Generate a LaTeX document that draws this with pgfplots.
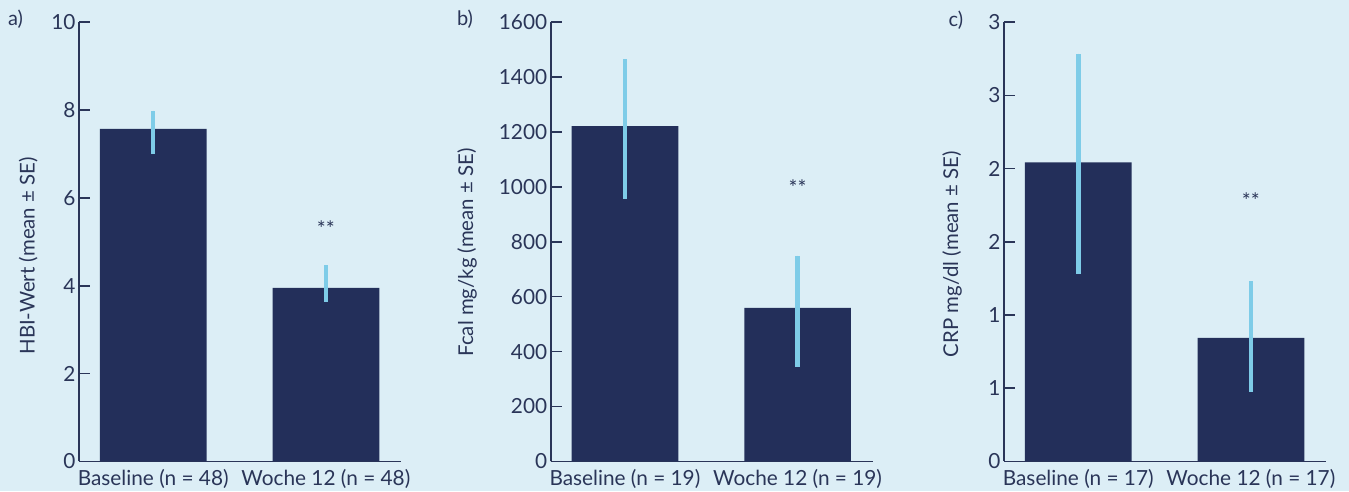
\documentclass[border=0pt]{standalone}
\usepackage{pgfplots}
\pgfplotsset{compat=1.18}
\usepackage{fontspec}
\setmainfont{Lato}
\definecolor{bg}{HTML}{DCEEF6}
\definecolor{navy}{HTML}{232F5A}
\definecolor{errc}{HTML}{7ECCE8}
\definecolor{txt}{HTML}{2A3558}
\tikzset{stars/.style={anchor=base, font=\fontsize{21}{24}\selectfont, text=txt}}
\pgfplotsset{
  panel/.style={
    scale only axis, width=322pt, height=439pt,
    axis lines=left,
    axis line style={-, line width=1.6pt, draw=txt},
    xmin=-0.43, xmax=1.435, ymin=0,
    xtick={0,1},
    xtick style={draw=none},
    tick align=inside, major tick length=11pt,
    ytick style={line width=1.6pt, draw=txt},
    extra x ticks={1.435}, extra x tick labels={},
    extra x tick style={major tick length=10pt, draw=txt, line width=1.6pt},
    tick label style={font=\fontsize{20.8}{24}\selectfont, text=txt},
    xticklabel style={yshift=6.5pt},
    label style={font=\fontsize{20.4}{24}\selectfont, text=txt},
    /pgf/number format/assume math mode=true,
    /pgf/number format/1000 sep={},
    ybar, bar width=106.7pt,
    clip=false,
  },
  errs/.style={fill=navy, draw=none,
    error bars/.cd, y dir=both, y explicit, error mark=none,
    error bar style={line width=4.5pt, draw=errc}},
}
\begin{document}
\begin{tikzpicture}
\path[use as bounding box, fill=bg] (0,0) rectangle (1349pt,491pt);
\node[font=\fontsize{20}{24}\selectfont, text=txt] at (15.5pt,472pt) {a)};
\node[font=\fontsize{20}{24}\selectfont, text=txt] at (465pt,472pt) {b)};
\node[font=\fontsize{20}{24}\selectfont, text=txt] at (956pt,471pt) {c)};

% Panel a
\begin{axis}[panel, at={(79pt,29.7pt)}, anchor=south west,
  ymax=10, ytick={0,2,4,6,8,10},
  xticklabels={Baseline (n = 48), Woche 12 (n = 48)},
  ylabel={HBI-Wert (mean ± SE)},
  ylabel style={at={(axis description cs:-0.158,0.468)}, anchor=center}]
\addplot[errs] coordinates {(0,7.57) += (0,0.41) -= (0,0.58) (1,3.95) += (0,0.52) -= (0,0.32)};
\node[stars] at (axis cs:1,5.12) {**};
\end{axis}

% Panel b
\begin{axis}[panel, at={(550.7pt,29.7pt)}, anchor=south west,
  ymax=1600, ytick={0,200,...,1600},
  xticklabels={Baseline (n = 19), Woche 12 (n = 19)},
  ylabel={Fcal mg/kg (mean ± SE)},
  ylabel style={at={(axis description cs:-0.26,0.476)}, anchor=center}]
\addplot[errs] coordinates {(0,1222) += (0,243) -= (0,266) (1,559) += (0,190) -= (0,216)};
\node[stars] at (axis cs:1,968) {**};
\end{axis}

% Panel c
\begin{axis}[panel, at={(1004pt,29.7pt)}, anchor=south west,
  ymax=3, ytick={0,0.5,1,1.5,2,2.5,3},
  yticklabels={0,1,1,2,2,3,3},
  xticklabels={Baseline (n = 17), Woche 12 (n = 17)},
  ylabel={CRP mg/dl (mean ± SE)},
  ylabel style={at={(axis description cs:-0.1615,0.472)}, anchor=center}]
\addplot[errs] coordinates {(0,2.043) += (0,0.742) -= (0,0.761) (1,0.843) += (0,0.387) -= (0,0.372)};
\node[stars] at (axis cs:1,1.727) {**};
\end{axis}
\end{tikzpicture}
\end{document}
